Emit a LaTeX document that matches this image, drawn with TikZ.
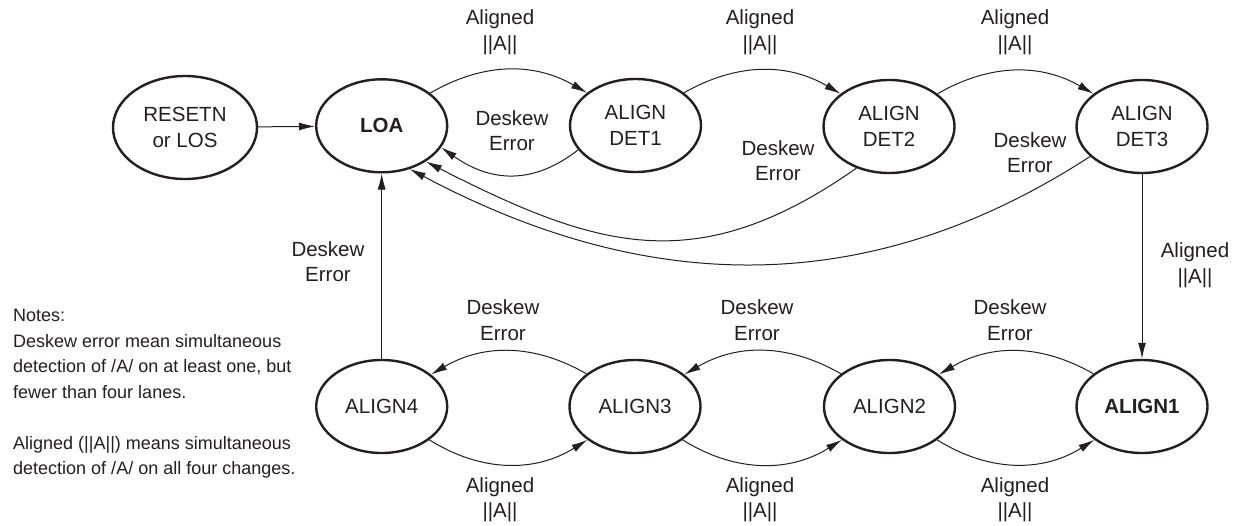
\documentclass[tikz,border=0pt]{standalone}
\usepackage{fontspec}
\setmainfont{Liberation Sans}
\usetikzlibrary{shapes.geometric,arrows.meta}
\definecolor{ink}{HTML}{231F20}
\begin{document}
\begin{tikzpicture}[x=1pt,y=-1pt,
  font=\fontsize{20.5}{25.5}\selectfont,
  st/.style={ellipse, draw=ink, line width=2.4pt, minimum width=131pt, minimum height=93pt, inner sep=0pt, align=center, text=ink},
  lbl/.style={align=center, text=ink, inner sep=0pt},
  tr/.style={draw=ink, line width=1pt, -{Latex[length=16pt,width=8pt]}}]
\fill[white] (0,0) rectangle (1237,525);
\useasboundingbox (0,0) rectangle (1237,525);
% states
\node[st, minimum width=144pt, minimum height=103pt] (R) at (185,127.5) {RESETN\\or LOS};
\node[st] (L) at (381.7,125.8) {\textbf{LOA}};
\node[st] (D1) at (635.5,125.5) {ALIGN\\DET1};
\node[st] (D2) at (889,126.5) {ALIGN\\DET2};
\node[st] (D3) at (1142,126.5) {ALIGN\\DET3};
\node[st] (A4) at (381.7,406.5) {ALIGN4};
\node[st] (A3) at (635,406.5) {ALIGN3};
\node[st] (A2) at (889.5,406.5) {ALIGN2};
\node[st] (A1) at (1142,406.5) {\textbf{ALIGN1}};
% transitions
\draw[tr] (R) -- (L);
\draw[tr] (L.34) to[bend left=30] (D1.146);
\draw[tr] (D1.34) to[bend left=30] (D2.146);
\draw[tr] (D2.34) to[bend left=30] (D3.146);
\draw[tr] (D1.203) to[out=218,in=-35,looseness=1.1] (L.340);
\draw[tr] (D2.232) to[out=215,in=-27,looseness=1.15] (L.321);
\draw[tr] (D3.210) to[out=213,in=-28] (L.303);
\draw[tr] (D3.south) -- (A1.north);
\draw[tr] (A4.north) -- (L.south);
\draw[tr] (A4.-35) to[bend right=32] (A3.215);
\draw[tr] (A3.-35) to[bend right=32] (A2.215);
\draw[tr] (A2.-35) to[bend right=32] (A1.215);
\draw[tr] (A3.146) to[bend right=30] (A4.33);
\draw[tr] (A2.146) to[bend right=30] (A3.33);
\draw[tr] (A1.146) to[bend right=30] (A2.33);
% labels
\node[lbl] (t1) at (500,32) {Aligned\\||A||};
\node[lbl] (t2) at (760,32) {Aligned\\||A||};
\node[lbl] (t3) at (1015,32) {Aligned\\||A||};
\node[lbl] (e1) at (512,130.5) {Deskew\\Error};
\node[lbl] (e2) at (778,160.5) {Deskew\\Error};
\node[lbl] (e3) at (1030,152.5) {Deskew\\Error};
\node[lbl] (v1) at (1195,265) {Aligned\\||A||};
\node[lbl] (v2) at (328,261.5) {Deskew\\Error};
\node[lbl] (b1) at (503,320) {Deskew\\Error};
\node[lbl] (b2) at (757,320) {Deskew\\Error};
\node[lbl] (b3) at (1010,320) {Deskew\\Error};
\node[lbl] (c1) at (500,499.5) {Aligned\\||A||};
\node[lbl] (c2) at (760,499.5) {Aligned\\||A||};
\node[lbl] (c3) at (1015,499.5) {Aligned\\||A||};
\node[lbl, align=left, anchor=north west, font=\fontsize{18}{25.5}\selectfont] (N) at (13,309)
  {Notes:\\Deskew error mean simultaneous\\detection of /A/ on at least one, but\\fewer than four lanes.\\[25.5pt]Aligned (||A||) means simultaneous\\detection of /A/ on all four changes.};
\end{tikzpicture}
\end{document}
